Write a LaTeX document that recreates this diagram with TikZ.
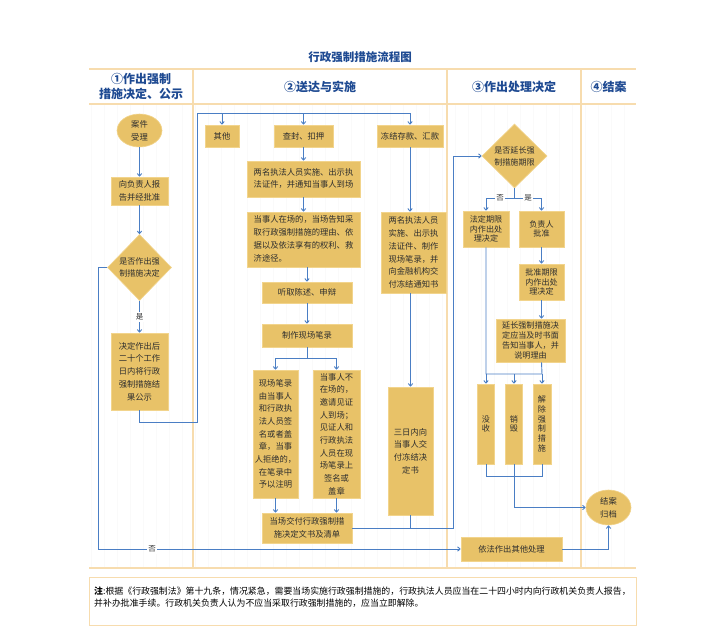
\documentclass[tikz,border=0pt]{standalone}
\usepackage{fontspec}
\setmainfont{Noto Sans CJK SC}
\usetikzlibrary{shapes.geometric,arrows.meta}
\definecolor{boxfill}{HTML}{E8C268}
\definecolor{boxedge}{HTML}{F2D48C}
\definecolor{flowblue}{HTML}{4A7EC4}
\definecolor{gridor}{HTML}{F7DCAE}
\definecolor{headblue}{HTML}{1E4A92}
\definecolor{txt}{HTML}{2E2E2E}
\begin{document}
\begin{tikzpicture}[x=1pt,y=-1pt,
 box/.style={draw=boxedge, fill=boxfill, line width=0.6pt, inner sep=0pt, align=center, text=txt, font=\fontsize{8.3}{12.7}\selectfont},
 tight/.style={font=\fontsize{8.1}{9.8}\selectfont},
 oval/.style={box, ellipse},
 dia/.style={box, diamond, font=\fontsize{8.1}{12}\selectfont},
 flow/.style={draw=flowblue, line width=0.9pt, -{Straight Barb[length=2.5pt,width=4.5pt]}},
 link/.style={draw=flowblue, line width=0.9pt},
 lab/.style={fill=white, inner sep=1.5pt, font=\fontsize{7.5}{9}\selectfont, text=txt},
 frame/.style={draw=gridor, line width=1.1pt},
 head/.style={font=\bfseries\fontsize{12}{14.5}\selectfont, text=headblue, align=center}
]
\useasboundingbox (0,0) rectangle (711,634);
\fill[white] (0,0) rectangle (711,634);
% faint background grid
\draw[black!2, line width=0.3pt, step=13] (89,104) grid (636,568);

% title and header
\node[font=\bfseries\fontsize{11.5}{13}\selectfont, text=headblue] (title) at (360,57) {行政强制措施流程图};
\draw[frame] (89,69) -- (636,69);
\draw[frame] (89,104) -- (636,104);
\draw[frame] (89,568) -- (636,568);
\draw[frame] (193,69) -- (193,568);
\draw[frame] (447,69) -- (447,568);
\draw[frame] (581,69) -- (581,568);
\node[head] (hA) at (141,86.5) {①作出强制\\措施决定、公示};
\node[head] (hB) at (320,86.5) {②送达与实施};
\node[head] (hC) at (514,86.5) {③作出处理决定};
\node[head] (hD) at (608.5,86.5) {④结案};

% column 1
\node[oval, minimum width=45, minimum height=33] (n1) at (139.5,130.5) {案件\\受理};
\node[box, minimum width=57, minimum height=28] (n2) at (139.5,191) {向负责人报\\告并经批准};
\node[dia, minimum width=64, minimum height=66] (d1) at (139.5,267.5) {是否作出强\\制措施决定};
\node[box, minimum width=57, minimum height=77] (n3) at (139.5,371.5) {决定作出后\\二十个工作\\日内将行政\\强制措施结\\果公示};

% column 2
\node[box, minimum width=34, minimum height=22] (b1) at (222,136) {其他};
\node[box, minimum width=59, minimum height=22] (b2) at (303.5,136) {查封、扣押};
\node[box, minimum width=66, minimum height=22] (b3) at (410,136) {冻结存款、汇款};
\node[box, minimum width=113, minimum height=36] (c1) at (303.5,179) {\begin{tabular}{@{}l@{}}两名执法人员实施、出示执\\法证件，并通知当事人到场\end{tabular}};
\node[box, minimum width=113, minimum height=55] (c2) at (303.5,239.5) {\begin{tabular}{@{}l@{}}当事人在场的，当场告知采\\取行政强制措施的理由、依\\据以及依法享有的权利、救\\济途径。\end{tabular}};
\node[box, minimum width=90, minimum height=21] (c3) at (307,292.5) {听取陈述、申辩};
\node[box, minimum width=90, minimum height=23] (c4) at (307,335.5) {制作现场笔录};
\node[box, minimum width=45, minimum height=128] (c5) at (275.5,434) {现场笔录\\由当事人\\和行政执\\法人员签\\名或者盖\\章，当事\\人拒绝的，\\在笔录中\\予以注明};
\node[box, minimum width=47, minimum height=128] (c6) at (336.5,434) {当事人不\\在场的，\\邀请见证\\人到场；\\见证人和\\行政执法\\人员在现\\场笔录上\\签名或\\盖章};
\node[box, minimum width=90, minimum height=30] (c7) at (307,528) {当场交付行政强制措\\施决定文书及清单};
\node[box, minimum width=65, minimum height=81] (r1) at (413.5,252.5) {两名执法人员\\实施、出示执\\法证件、制作\\现场笔录，并\\向金融机构交\\付冻结通知书};
\node[box, minimum width=45, minimum height=128] (r2) at (410.5,451) {三日内向\\当事人交\\付冻结决\\定书};

% column 3
\node[dia, minimum width=65, minimum height=64] (d2) at (514.5,156) {是否延长强\\制措施期限};
\node[box, tight, minimum width=46, minimum height=36] (e1) at (486,229) {法定期限\\内作出处\\理决定};
\node[box, tight, minimum width=45, minimum height=36] (e2) at (541.5,229) {负责人\\批准};
\node[box, tight, minimum width=45, minimum height=36] (e3) at (541.5,282) {批准期限\\内作出处\\理决定};
\node[box, tight, minimum width=69, minimum height=43] (e4) at (530.5,340.5) {延长强制措施决\\定应当及时书面\\告知当事人，并\\说明理由};
\node[box, tight, minimum width=17, minimum height=80] (f1) at (486,424) {没\\收};
\node[box, tight, minimum width=17, minimum height=80] (f2) at (514,424) {销\\毁};
\node[box, tight, minimum width=18, minimum height=80] (f3) at (542,424) {解\\除\\强\\制\\措\\施};
\node[box, minimum width=101, minimum height=24] (h1) at (511.5,549) {依法作出其他处理};

% column 4
\node[oval, minimum width=45, minimum height=35] (g1) at (608.5,507.5) {结案\\归档};

% footer
\node[draw=gridor, line width=1pt, minimum width=547, minimum height=48, anchor=north west, inner sep=0pt] (notebox) at (89,577) {};
\node[anchor=north west, align=left, inner sep=0pt, text=black, font=\fontsize{8.9}{12}\selectfont] (note) at (94,587) {\textbf{注}:根据《行政强制法》第十九条，情况紧急，需要当场实施行政强制措施的，行政执法人员应当在二十四小时内向行政机关负责人报告，\\并补办批准手续。行政机关负责人认为不应当采取行政强制措施的，应当立即解除。};

% connectors column 1
\draw[flow] (n1) -- (n2);
\draw[flow] (n2) -- (d1);
\draw[flow] (d1.south) -- node[lab] {是} (n3.north);
\coordinate (lc) at (197,422);
\coordinate (ld) at (197,113);
\draw[flow] (n3.south) |- (lc) -- (ld) -| (b3.north);
\draw[flow] (b1.north |- ld) -- (b1.north);
\draw[flow] (b2.north |- ld) -- (b2.north);
\coordinate (nL) at (98,549);
\draw[flow] (d1.west) -| (nL) -- (h1.west);
\node[lab] (nolab) at (152,549) {否};

% connectors column 2
\draw[flow] (b2) -- (c1);
\draw[flow] (c1) -- (c2);
\draw[flow] (c3.north |- c2.south) -- (c3.north);
\draw[flow] (c3) -- (c4);
\coordinate (sp2) at (307,358);
\draw[link] (c4.south) -- (sp2);
\draw[flow] (sp2) -| (c5.north);
\draw[flow] (sp2) -| (c6.north);
\draw[flow] (c5.south) -- (c5.south |- c7.north);
\draw[flow] (c6.south) -- (c6.south |- c7.north);
\draw[flow] (b3.south) -- (b3.south |- r1.north);
\draw[flow] (r2.north |- r1.south) -- (r2.north);
\coordinate (rj) at (453,528);
\coordinate (rt) at (453,156);
\draw[link] (r2.south) -- (r2.south |- rj);
\draw[flow] (c7.east) -- (rj) -- (rt) -- (d2.west);

% connectors column 3
\coordinate (sp) at (514.5,198);
\draw[link] (d2.south) -- (sp);
\draw[flow] (sp) -| (e1.north);
\draw[flow] (sp) -| (e2.north);
\node[lab] (nolab2) at (500,198) {否};
\node[lab] (yeslab2) at (528,198) {是};
\draw[flow] (e2) -- (e3);
\draw[flow] (e3.south) -- (e3.south |- e4.north);
\coordinate (jA) at (486,374);
\coordinate (jB) at (542,374);
\draw[link] (e1.south) -- (jA) -- (jB) -- (e2.south |- e4.south);
\draw[flow] (f1.north |- jA) -- (f1.north);
\draw[flow] (f2.north |- jA) -- (f2.north);
\draw[flow] (f3.north |- jA) -- (f3.north);
\coordinate (kA) at (486,476);
\coordinate (kB) at (542,476);
\draw[link] (f1.south) -- (kA) -- (kB) -- (f3.south);
\draw[flow] (f2.south) |- (g1.west);
\draw[flow] (h1.east) -| (g1.south);
\end{tikzpicture}
\end{document}
